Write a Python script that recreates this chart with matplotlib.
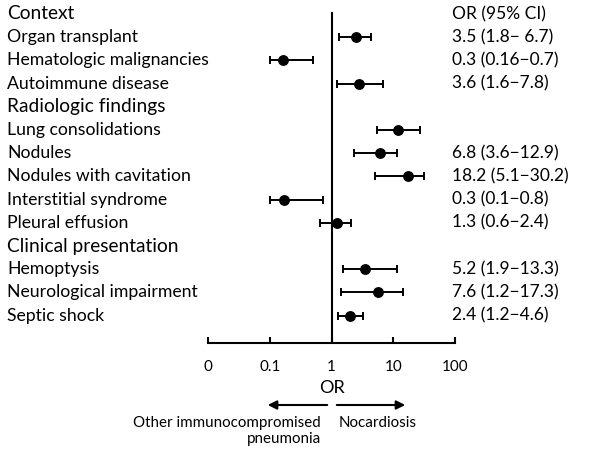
import numpy as np
import matplotlib
matplotlib.use("Agg")
import matplotlib.pyplot as plt

plt.rcParams["font.family"] = ["Lato", "DejaVu Sans"]

# rows, top to bottom (None = section header)
labels = ["Context", "Organ transplant", "Hematologic malignancies", "Autoimmune disease",
          "Radiologic findings", "Lung consolidations", "Nodules", "Nodules with cavitation",
          "Interstitial syndrome", "Pleural effusion",
          "Clinical presentation", "Hemoptysis", "Neurological impairment", "Septic shock"]
headers = ["Context", "Radiologic findings", "Clinical presentation"]

# plotted point estimates and CI as drawn in the figure
or_pt = [None, 2.45, 0.163, 2.77, None, 11.8, 6.0, 17.6, 0.17, 1.24, None, 3.55, 5.7, 2.0]
ci_lo = [None, 1.31, 0.10, 1.22, None, 5.5, 2.3, 5.0, 0.10, 0.66, None, 1.56, 1.45, 1.27]
ci_hi = [None, 4.4, 0.50, 6.9, None, 26.9, 11.4, 32.0, 0.72, 2.08, None, 11.4, 14.3, 3.2]

or_text = ["OR (95% CI)", "3.5 (1.8\u2212 6.7)", "0.3 (0.16\u22120.7)", "3.6 (1.6\u22127.8)",
           "", "", "6.8 (3.6\u221212.9)", "18.2 (5.1\u221230.2)", "0.3 (0.1\u22120.8)",
           "1.3 (0.6\u22122.4)", "", "5.2 (1.9\u221213.3)", "7.6 (1.2\u221217.3)",
           "2.4 (1.2\u22124.6)"]

xticks = [0.01, 0.1, 1, 10, 100]
xticklabels = ["0", "0.1", "1", "10", "100"]

W, H = 600, 451
fig = plt.figure(figsize=(6, 4.51), dpi=100)
ax = fig.add_axes([208 / W, 1 - 343 / H, (455 - 208) / W, (343 - 12) / H])
ax.set_xscale("log")
ax.set_xlim(0.01, 100)
ax.set_ylim(14.18, -0.086)

rows = np.arange(len(labels))
for i in rows:
    if or_pt[i] is None:
        continue
    ax.errorbar(or_pt[i], i, xerr=[[or_pt[i] - ci_lo[i]], [ci_hi[i] - or_pt[i]]],
                fmt="o", color="black", ms=6.8, elinewidth=1.4, capsize=2.8, capthick=1.4)

ax.axvline(1, color="black", lw=1.5)

for s in ["top", "left", "right"]:
    ax.spines[s].set_visible(False)
ax.spines["bottom"].set_linewidth(1.5)
ax.set_yticks([])
ax.set_xticks(xticks)
ax.set_xticklabels(xticklabels)
ax.minorticks_off()
ax.tick_params(axis="x", direction="in", length=4, width=1.5, pad=12, labelsize=11)

# row labels and OR column
tr_left = matplotlib.transforms.blended_transform_factory(fig.transFigure, ax.transData)
for i, lab in enumerate(labels):
    big = lab in headers
    ax.text(7 / W, i, lab, transform=tr_left, ha="left", va="center",
            fontsize=13.8 if big else 12.7, clip_on=False)
    if or_text[i]:
        ax.text(452 / W, i, or_text[i], transform=tr_left, ha="left", va="center",
                fontsize=12.5, clip_on=False)

# axis label and direction arrows
fig.text(332 / W, 1 - 388 / H, "OR", ha="center", va="center", fontsize=13)
ax.annotate("", xy=(265 / W, 1 - 405 / H), xytext=(330 / W, 1 - 405 / H),
            xycoords="figure fraction", textcoords="figure fraction",
            arrowprops=dict(arrowstyle="-|>", color="black", lw=1.5, mutation_scale=13))
ax.annotate("", xy=(408 / W, 1 - 405 / H), xytext=(334 / W, 1 - 405 / H),
            xycoords="figure fraction", textcoords="figure fraction",
            arrowprops=dict(arrowstyle="-|>", color="black", lw=1.5, mutation_scale=13))
fig.text(321 / W, 1 - 416 / H, "Other immunocompromised\npneumonia", ha="right", va="top",
         fontsize=10.9, linespacing=1.2, multialignment="right")
fig.text(339 / W, 1 - 416 / H, "Nocardiosis", ha="left", va="top", fontsize=10.9)

fig.savefig("out.png", dpi=100)
